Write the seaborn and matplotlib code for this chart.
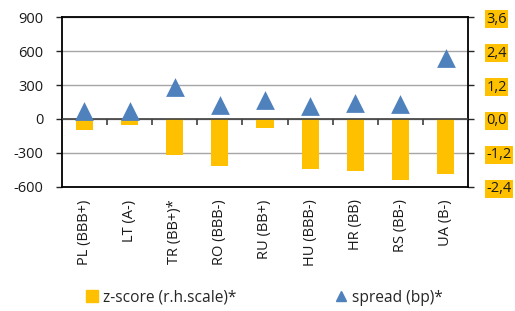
import numpy as np
import matplotlib
matplotlib.use("Agg")
import matplotlib.pyplot as plt
import seaborn as sns
from matplotlib.lines import Line2D

categories = ["PL (BBB+)", "LT (A-)", "TR (BB+)*", "RO (BBB-)", "RU (BB+)",
              "HU (BBB-)", "HR (BB)", "RS (BB-)", "UA (B-)"]
zscore = [-0.38, -0.21, -1.29, -1.67, -0.31, -1.78, -1.83, -2.16, -1.95]
spread = [70, 68, 279, 126, 170, 117, 141, 132, 543]

left_ticks = [-600, -300, 0, 300, 600, 900]
left_labels = ["-600", "-300", "0", "300", "600", "900"]
right_ticks = [-2.4, -1.2, 0.0, 1.2, 2.4, 3.6]
right_labels = ["-2,4", "-1,2", "0,0", "1,2", "2,4", "3,6"]

BAR = "#FFC000"
TRI = "#4F81BD"

sns.set_style("white")
plt.rcParams["font.family"] = ["Open Sans", "DejaVu Sans"]
plt.rcParams["font.size"] = 10

fig = plt.figure(figsize=(5.15, 3.11), dpi=100)
ax = fig.add_axes([0.120, 0.399, 0.789, 0.546])
ax2 = ax.twinx()

sns.stripplot(x=categories, y=spread, ax=ax, jitter=False, marker="^",
              size=13.5, color=TRI, linewidth=0, zorder=5)
sns.barplot(x=categories, y=zscore, ax=ax2, color=BAR, width=0.38,
            saturation=1, linewidth=0)

n = len(categories)
ax.set_xlim(-0.5, n - 0.5)
ax.set_ylim(-600, 900)
ax2.set_ylim(-2.4, 3.6)

ax.set_zorder(ax2.get_zorder() + 1)
ax.patch.set_visible(False)

ax.set_yticks(left_ticks, labels=left_labels)
ax2.set_yticks(right_ticks, labels=right_labels)
ax2.yaxis.grid(True, color="#A6A6A6", lw=1)
ax2.set_axisbelow(True)

ax.set_xticks(range(n), labels=categories, rotation=90)
ax.tick_params(axis="x", length=0, pad=9, labelsize=10.5, labelcolor="#1a1a1a")
ax.tick_params(axis="y", direction="out", length=4, width=1, pad=9,
               labelsize=10.5, labelcolor="#1a1a1a", left=True)
ax2.tick_params(axis="y", direction="out", length=4, width=1, pad=9,
                labelsize=10.5, labelcolor="#1a1a1a", right=True)
for lab in ax2.get_yticklabels():
    lab.set_bbox(dict(facecolor=BAR, edgecolor="none", pad=1))

ax.set_xlabel("")
ax.set_ylabel("")
ax2.set_xlabel("")
ax2.set_ylabel("")

# zero line with category boundary ticks
ax.axhline(0, color="#404040", lw=1.2, zorder=4)
ax.vlines(np.arange(0.5, n - 1), -55, 0, color="#404040", lw=1.2, zorder=4)

for s in ax.spines.values():
    s.set_visible(True)
    s.set_color("black")
    s.set_linewidth(1.3)
for s in ax2.spines.values():
    s.set_visible(False)

handles = [
    Line2D([], [], marker="s", ls="none", color=BAR, markersize=8,
           label="z-score (r.h.scale)*"),
    Line2D([], [], marker="^", ls="none", color=TRI, markersize=7.5,
           label="spread (bp)*"),
]
fig.legend(handles=handles, loc="center", bbox_to_anchor=(0.513, 0.042),
           ncol=2, frameon=False, fontsize=11.2, columnspacing=6.3,
           handlelength=0.8, handletextpad=0.3)

fig.savefig("out.png", dpi=100)
